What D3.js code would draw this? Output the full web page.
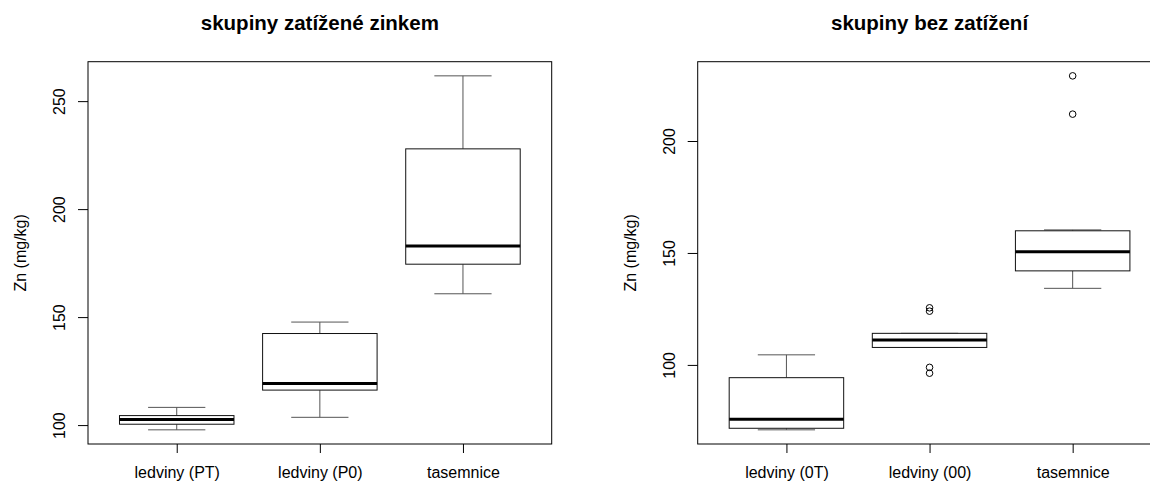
<!DOCTYPE html>
<html>
<head>
<meta charset="utf-8">
<script src="https://cdn.jsdelivr.net/npm/d3@7"></script>
<style>
  body { margin: 0; background: #fff; }
  text { font-family: "Liberation Sans", Arial, sans-serif; fill: #000; }
</style>
</head>
<body>
<div id="chart"></div>
<script>
// box statistics (Zn in mg/kg)
var categoriesA = ["ledviny (PT)", "ledviny (P0)", "tasemnice"];
var lowA = [97.8, 103.6, 160.8];
var q1A = [100.4, 116.2, 174.5];
var medA = [102.6, 119.3, 182.9];
var q3A = [104.4, 142.4, 227.9];
var highA = [108.2, 147.7, 261.7];
var outA = [[], [], []];
var ticksA = [100, 150, 200, 250];

var categoriesB = ["ledviny (0T)", "ledviny (00)", "tasemnice"];
var lowB = [71.0, 107.8, 134.2];
var q1B = [71.7, 107.8, 142.0];
var medB = [75.7, 111.1, 150.5];
var q3B = [94.3, 114.1, 159.9];
var highB = [104.5, 114.1, 160.3];
var outB = [[], [96.3, 98.9, 124.0, 125.5], [212.0, 229.1]];
var ticksB = [100, 150, 200];

var svg = d3.select("#chart")
    .append("svg")
    .attr("width", 1150)
    .attr("height", 486);

// draw one boxplot panel
function panel(left, title, cats, low, q1, med, q3, high, outs, ticks) {
    var top = 61.7, bottom = 444, width = 463.7;

    var x = d3.scalePoint()
        .domain(cats)
        .range([left, left + width])
        .padding(0.62);
    var step = x.step();

    var all = low.concat(high, d3.merge(outs));
    var lo = d3.min(all), hi = d3.max(all);
    var pad = (hi - lo) * 0.04;
    var y = d3.scaleLinear()
        .domain([lo - pad, hi + pad])
        .range([bottom, top]);

    var g = svg.append("g");

    var rows = cats.map(function(c, i) {
        return {cat: c, low: low[i], q1: q1[i], med: med[i], q3: q3[i], high: high[i], outs: outs[i]};
    });

    var box = g.selectAll(".box").data(rows).enter().append("g");

    // whiskers
    box.append("line")
        .attr("x1", function(d) { return x(d.cat); })
        .attr("x2", function(d) { return x(d.cat); })
        .attr("y1", function(d) { return y(d.high); })
        .attr("y2", function(d) { return y(d.q3); })
        .attr("stroke", "#555");
    box.append("line")
        .attr("x1", function(d) { return x(d.cat); })
        .attr("x2", function(d) { return x(d.cat); })
        .attr("y1", function(d) { return y(d.q1); })
        .attr("y2", function(d) { return y(d.low); })
        .attr("stroke", "#555");
    // caps
    ["high", "low"].forEach(function(k) {
        box.append("line")
            .attr("x1", function(d) { return x(d.cat) - step * 0.2; })
            .attr("x2", function(d) { return x(d.cat) + step * 0.2; })
            .attr("y1", function(d) { return y(d[k]); })
            .attr("y2", function(d) { return y(d[k]); })
            .attr("stroke", "#555");
    });
    // box
    box.append("rect")
        .attr("x", function(d) { return x(d.cat) - step * 0.4; })
        .attr("width", step * 0.8)
        .attr("y", function(d) { return y(d.q3); })
        .attr("height", function(d) { return y(d.q1) - y(d.q3); })
        .attr("fill", "#fff")
        .attr("stroke", "#111");
    // median
    box.append("line")
        .attr("x1", function(d) { return x(d.cat) - step * 0.4; })
        .attr("x2", function(d) { return x(d.cat) + step * 0.4; })
        .attr("y1", function(d) { return y(d.med); })
        .attr("y2", function(d) { return y(d.med); })
        .attr("stroke", "#000")
        .attr("stroke-width", 3);
    // outliers
    box.selectAll("circle")
        .data(function(d) { return d.outs.map(function(v) { return {cat: d.cat, v: v}; }); })
        .enter().append("circle")
        .attr("cx", function(d) { return x(d.cat); })
        .attr("cy", function(d) { return y(d.v); })
        .attr("r", 3.3)
        .attr("fill", "none")
        .attr("stroke", "#000");

    // frame
    g.append("rect")
        .attr("x", left)
        .attr("y", top)
        .attr("width", width)
        .attr("height", bottom - top)
        .attr("fill", "none")
        .attr("stroke", "#000");

    // y axis
    var ya = g.append("g")
        .attr("transform", "translate(" + left + ",0)")
        .call(d3.axisLeft(y).tickValues(ticks).tickSize(10).tickFormat(d3.format("d")));
    ya.select(".domain").remove();
    ya.selectAll("line").attr("stroke", "#000");
    ya.selectAll("text")
        .attr("x", null).attr("dy", null)
        .attr("transform", "translate(-23,0) rotate(-90)")
        .attr("text-anchor", "middle")
        .style("font-size", "16px")
        .style("font-family", "Liberation Sans, Arial, sans-serif");

    // x axis
    var xa = g.append("g")
        .attr("transform", "translate(0," + bottom + ")")
        .call(d3.axisBottom(x).tickSize(9));
    xa.select(".domain").remove();
    xa.selectAll("line").attr("stroke", "#000");
    xa.selectAll("text")
        .attr("y", 34).attr("dy", null)
        .style("font-size", "16px")
        .style("font-family", "Liberation Sans, Arial, sans-serif");

    // axis title
    g.append("text")
        .attr("transform", "translate(" + (left - 62) + "," + ((top + bottom) / 2) + ") rotate(-90)")
        .attr("text-anchor", "middle")
        .style("font-size", "16px")
        .text("Zn (mg/kg)");

    // main title
    g.append("text")
        .attr("x", left + width / 2)
        .attr("y", 30)
        .attr("text-anchor", "middle")
        .style("font-size", "20.5px")
        .style("font-weight", "bold")
        .text(title);
}

panel(88, "skupiny zatížené zinkem", categoriesA, lowA, q1A, medA, q3A, highA, outA, ticksA);
panel(697.7, "skupiny bez zatížení", categoriesB, lowB, q1B, medB, q3B, highB, outB, ticksB);
</script>
</body>
</html>
